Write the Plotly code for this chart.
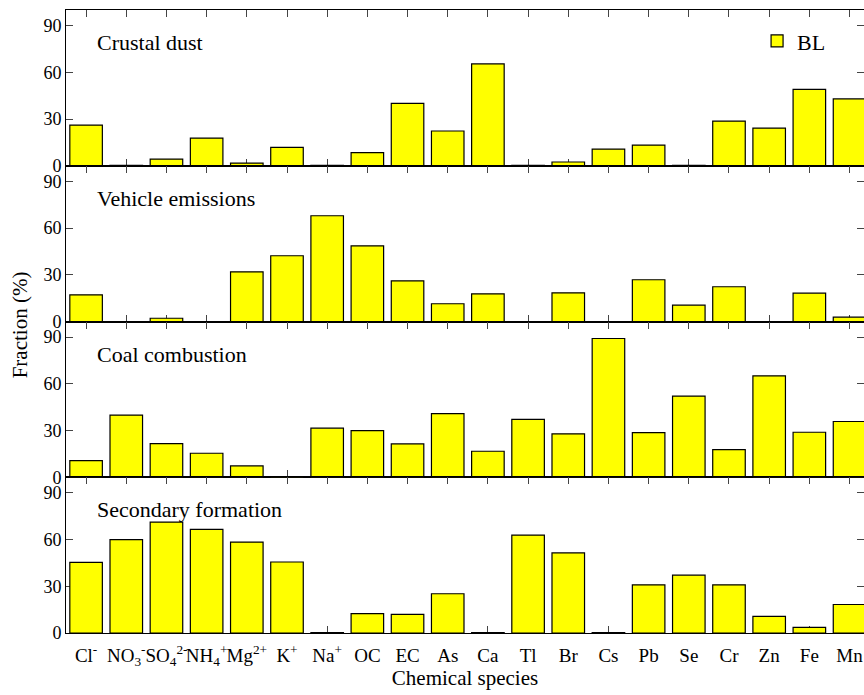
import plotly.graph_objects as go
from plotly.subplots import make_subplots

categories = ["Cl-", "NO3-", "SO42-", "NH4+", "Mg2+", "K+", "Na+", "OC", "EC", "As",
              "Ca", "Tl", "Br", "Cs", "Pb", "Se", "Cr", "Zn", "Fe", "Mn"]
tick_labels = ["Cl<sup>-</sup>", "NO<sub>3</sub><sup>-</sup>", "SO<sub>4</sub><sup>2-</sup>",
               "NH<sub>4</sub><sup>+</sup>", "Mg<sup>2+</sup>", "K<sup>+</sup>", "Na<sup>+</sup>",
               "OC", "EC", "As", "Ca", "Tl", "Br", "Cs", "Pb", "Se", "Cr", "Zn", "Fe", "Mn"]

panel_titles = ["Crustal dust", "Vehicle emissions", "Coal combustion", "Secondary formation"]

crustal_dust = [26.1, 0.2, 4.3, 17.8, 1.7, 11.8, 0.2, 8.4, 40.1, 22.3,
                65.4, 0.2, 2.4, 10.7, 13.3, 0.2, 28.7, 24.2, 49.1, 42.9]
vehicle_emissions = [17.1, 0, 2.1, 0, 31.9, 42.2, 67.9, 48.6, 26.1, 11.4,
                     17.8, 0, 18.4, 0, 26.8, 10.5, 22.3, 0, 18.2, 2.8]
coal_combustion = [10.7, 39.9, 21.6, 15.4, 7.3, 0.2, 31.5, 30.0, 21.4, 40.9,
                   16.7, 37.1, 27.9, 89.1, 28.7, 52.1, 17.8, 65.1, 28.9, 35.8]
secondary_formation = [45.4, 59.9, 71.2, 66.5, 58.4, 45.6, 0.2, 12.4, 11.9, 25.2,
                       0.2, 62.9, 51.4, 0.2, 30.9, 37.1, 30.9, 10.7, 3.6, 18.3]

series = [crustal_dust, vehicle_emissions, coal_combustion, secondary_formation]
y_ticks = [0, 30, 60, 90]

FONT = "Liberation Serif"

fig = make_subplots(rows=4, cols=1, shared_xaxes=True, vertical_spacing=0)

for i, vals in enumerate(series):
    fig.add_trace(go.Bar(
        x=categories, y=vals, name="BL",
        marker=dict(color="#FFFF00", line=dict(color="black", width=1.2)),
        showlegend=(i == 0),
    ), row=i + 1, col=1)
    fig.update_yaxes(range=[0, 100], tickvals=y_ticks, ticks="inside", ticklen=7,
                     showline=True, linecolor="black", linewidth=1, mirror="ticks",
                     showgrid=False, zeroline=False, layer="below traces",
                     automargin=False,
                     tickfont=dict(family=FONT, size=18, color="black"),
                     row=i + 1, col=1)
    fig.update_xaxes(range=[-0.5, 19.36], tickvals=categories, ticktext=tick_labels,
                     ticks="inside", ticklen=7, showline=True, linecolor="black",
                     linewidth=1, mirror="ticks", showgrid=False, layer="below traces",
                     showticklabels=(i == 3), tickangle=0, automargin=False,
                     ticklabelstandoff=5,
                     tickfont=dict(family=FONT, size=19, color="black"),
                     row=i + 1, col=1)
    xr = "x" if i == 0 else f"x{i + 1}"
    yr = "y" if i == 0 else f"y{i + 1}"
    fig.add_annotation(text=panel_titles[i], xref=f"{xr} domain", yref=f"{yr} domain",
                       x=0.036, y=0.79, xanchor="left", yanchor="middle", showarrow=False,
                       font=dict(family=FONT, size=22, color="black"))

fig.update_xaxes(title=dict(text="Chemical species", font=dict(family=FONT, size=21, color="black"),
                            standoff=1), row=4, col=1)

fig.add_annotation(text="Fraction (%)", xref="paper", yref="paper", x=-0.058, y=0.495,
                   textangle=-90, xanchor="center", yanchor="middle", showarrow=False,
                   font=dict(family=FONT, size=21, color="black"))

fig.update_layout(
    width=864, height=695,
    margin=dict(l=66, r=0, t=10, b=62),
    paper_bgcolor="white", plot_bgcolor="white",
    bargap=0.19,
    showlegend=True,
    legend=dict(x=0.866, y=0.95, xanchor="left", yanchor="middle",
                font=dict(family=FONT, size=22, color="black"),
                bgcolor="rgba(0,0,0,0)", itemwidth=30),
    font=dict(family=FONT, color="black"),
)

fig.write_html("out.html")
